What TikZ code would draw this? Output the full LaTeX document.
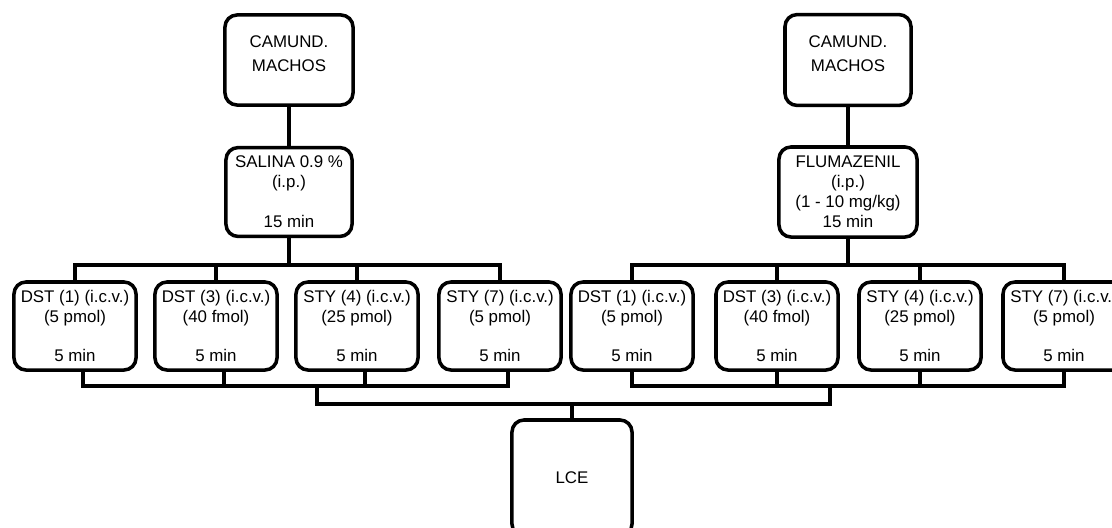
\documentclass[tikz,border=0pt]{standalone}
\usepackage{fontspec}
\setmainfont{Liberation Sans}
\usetikzlibrary{positioning}
\tikzset{
  caja/.style={draw, line width=2.5pt, rounded corners=0.3cm, align=center, inner sep=2pt,
    font=\fontsize{12}{14.2}\selectfont},
  fila/.style={caja, minimum width=3.05cm, minimum height=2.2cm},
  conector/.style={line width=2.5pt},
}

\begin{document}
\begin{tikzpicture}[x=0.025cm, y=-0.025cm]
  \path[use as bounding box, clip] (0,0) rectangle (1112,527);
  % grupos
  \node[caja, minimum width=3.2cm, minimum height=2.25cm] (camL) at (289,60) {CAMUND.\\[3pt]MACHOS\\[-5pt]};
  \node[caja, minimum width=3.15cm, minimum height=2.22cm] (salL) at (289,192) {SALINA 0.9 \%\\(i.p.)\\[14.2pt]15 min};
  \node[caja, minimum width=3.15cm, minimum height=2.27cm] (camR) at (848,60) {CAMUND.\\[3pt]MACHOS\\[-5pt]};
  \node[caja, minimum width=3.45cm, minimum height=2.25cm] (fluR) at (848,192) {FLUMAZENIL\\(i.p.)\\(1 - 10 mg/kg)\\15 min};
  % microinyecciones i.c.v.
  \node[fila] (l1) at (75,326)   {DST (1) (i.c.v.)\\(5 pmol)\\[14.2pt]5 min};
  \node[fila] (l2) at (216,326)  {DST (3) (i.c.v.)\\(40 fmol)\\[14.2pt]5 min};
  \node[fila] (l3) at (357,326)  {STY (4) (i.c.v.)\\(25 pmol)\\[14.2pt]5 min};
  \node[fila] (l4) at (500,326)  {STY (7) (i.c.v.)\\(5 pmol)\\[14.2pt]5 min};
  \node[fila] (r1) at (632,326)  {DST (1) (i.c.v.)\\(5 pmol)\\[14.2pt]5 min};
  \node[fila] (r2) at (777,326)  {DST (3) (i.c.v.)\\(40 fmol)\\[14.2pt]5 min};
  \node[fila] (r3) at (920,326)  {STY (4) (i.c.v.)\\(25 pmol)\\[14.2pt]5 min};
  \node[fila] (r4) at (1064,326) {STY (7) (i.c.v.)\\(5 pmol)\\[14.2pt]5 min};
  % prueba
  \node[caja, minimum width=3cm, minimum height=2.9cm] (lce) at (572,478) {LCE};

  \coordinate (busA) at (0,265);
  \coordinate (busB) at (0,386);
  \coordinate (busC) at (0,404);
  \draw[conector] (camL) -- (salL);
  \draw[conector] (camR) -- (fluR);
  \draw[conector] (salL.south) -- (salL.south |- busA);
  \draw[conector] (fluR.south) -- (fluR.south |- busA);
  \draw[conector] (l1.north) -- (l1.north |- busA) -- (l4.north |- busA) -- (l4.north);
  \draw[conector] (r1.north) -- (r1.north |- busA) -- (r4.north |- busA) -- (r4.north);
  \foreach \n in {l2,l3,r2,r3}
    \draw[conector] (\n.north) -- (\n.north |- busA);
  % salidas
  \foreach \n in {l1,l2,l3,l4}
    \coordinate (b\n) at ([xshift=0.2cm]\n.south);
  \draw[conector] (bl1) -- (bl1 |- busB) -- (bl4 |- busB) -- (bl4);
  \draw[conector] (bl2) -- (bl2 |- busB);
  \draw[conector] (bl3) -- (bl3 |- busB);
  \draw[conector] (r1.south) -- (r1.south |- busB) -- (r4.south |- busB) -- (r4.south);
  \draw[conector] (r2.south) -- (r2.south |- busB);
  \draw[conector] (r3.south) -- (r3.south |- busB);
  \coordinate (jL) at (317,386);
  \coordinate (jR) at (830,386);
  \draw[conector] (jL) -- (jL |- busC) -- (jR |- busC) -- (jR);
  \draw[conector] (lce.north) -- (lce.north |- busC);
\end{tikzpicture}
\end{document}
